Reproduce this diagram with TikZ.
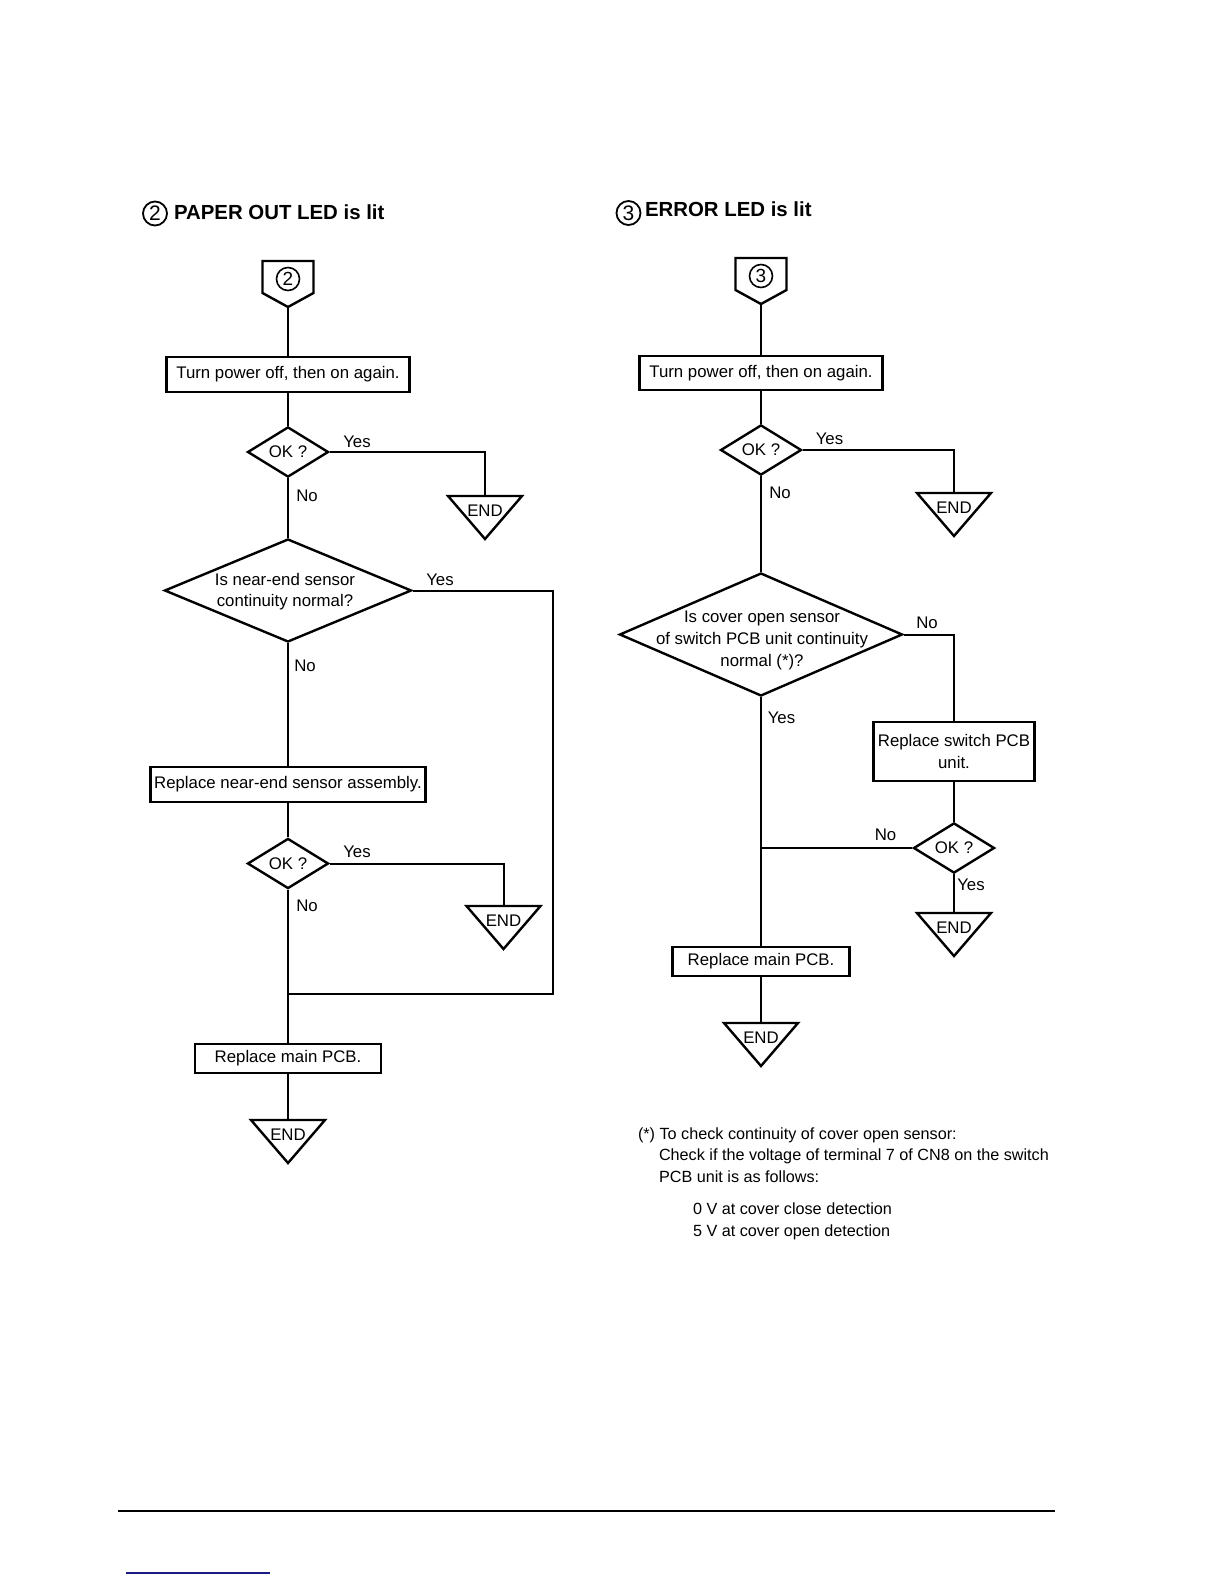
\documentclass[tikz,border=0pt]{standalone}
\usepackage{fontspec}
\setmainfont{Liberation Sans}
\usetikzlibrary{shapes.geometric}
\definecolor{linkblue}{RGB}{28,28,130}
\begin{document}
\begin{tikzpicture}[x=0.5pt, y=-0.5pt, line width=1pt,
    font=\fontsize{8.4}{10.8}\selectfont,
    procbox/.style={draw, rectangle, line width=1.2pt, inner sep=0pt, align=center},
    decision/.style={draw, diamond, line width=1.2pt, inner sep=0pt,
      minimum width=40.5pt, minimum height=22.5pt},
    lbl/.style={inner sep=0pt, text height=6pt, text depth=0pt},
    headline/.style={inner sep=0pt, anchor=west, text height=7.4pt, text depth=0pt,
      font=\fontsize{10.2}{12}\bfseries},
    headnum/.style={circle, draw, line width=0.9pt, minimum size=12pt, inner sep=0pt,
      font=\fontsize{10.5}{12}\selectfont},
    footline/.style={lbl, anchor=west, font=\fontsize{8.1}{10}\selectfont},
    startmark/.style={circle, draw, line width=0.8pt, minimum size=11.5pt, inner sep=0pt,
      font=\fontsize{9.5}{10}\selectfont,
      append after command={\pgfextra{\let\startnode\tikzlastnode
        \draw[line width=1.2pt, line join=miter]
           ([shift={(-25.5,-18)}]\startnode.center)
        -- ([shift={(25.5,-18)}]\startnode.center)
        -- ([shift={(25.5,14)}]\startnode.center)
        -- ([shift={(0,28)}]\startnode.center)
        -- ([shift={(-25.5,14)}]\startnode.center)
        -- cycle;
        \coordinate (\startnode-tip) at ([shift={(0,28)}]\startnode.center);}}},
    endmark/.style={rectangle, minimum width=36pt, minimum height=20.5pt, inner sep=0pt,
      anchor=north, text height=6pt, text depth=7.5pt,
      append after command={\pgfextra{\let\endnode\tikzlastnode
        \draw[line width=1.2pt, line join=miter]
           (\endnode.north west) -- (\endnode.north east) -- (\endnode.south) -- cycle;}}}]
  \useasboundingbox (0,0) rectangle (1224,1584);

  % Left chart: PAPER OUT LED
  \node[headnum] (t2num) at (155,213.5) {2};
  \node[headline] (t2) at (173,212.5) {PAPER OUT LED is lit};
  \node[startmark] (s2) at (288,279) {2};
  \node[procbox, minimum width=121.5pt, minimum height=17.5pt] (p2a) at (288,374.5)
    {Turn power off, then on again.};
  \node[decision] (ok2a) at (288,452) {OK ?};
  \node[endmark] (end2a) at (485,496) {END};
  \node[decision, minimum width=123.5pt, minimum height=51.5pt] (d2) at (288,590.5) {};
  \node[align=center, inner sep=0pt] (d2txt) at (285,591.5)
    {Is near-end sensor\\continuity normal?};
  \node[procbox, minimum width=137.5pt, minimum height=17.5pt] (p2b) at (288,784.5)
    {Replace near-end sensor assembly.};
  \node[decision] (ok2b) at (288,863.5) {OK ?};
  \node[endmark] (end2b) at (503.5,906) {END};
  \coordinate (j2) at (288,994);
  \coordinate (c2) at (553,994);
  \node[procbox, minimum width=93pt, minimum height=14.5pt] (p2c) at (288,1058.5)
    {Replace main PCB.};
  \node[endmark] (end2c) at (288,1120) {END};

  \draw (s2-tip) -- (p2a);
  \draw (p2a) -- (ok2a);
  \draw (ok2a.east) -| (end2a.north);
  \draw (ok2a) -- (d2);
  \draw (d2.east) -| (c2) -- (j2);
  \draw (d2) -- (p2b);
  \draw (p2b) -- (ok2b);
  \draw (ok2b.east) -| (end2b.north);
  \draw (ok2b) -- (p2c);
  \draw (p2c) -- (end2c);

  \node[lbl] (y2a) at (357,441) {Yes};
  \node[lbl] (n2a) at (307,495) {No};
  \node[lbl] (y2b) at (440,579) {Yes};
  \node[lbl] (n2b) at (305,665) {No};
  \node[lbl] (y2c) at (357,851) {Yes};
  \node[lbl] (n2c) at (307,905) {No};

  % Right chart: ERROR LED
  \node[headnum] (t3num) at (628.5,213) {3};
  \node[headline] (t3) at (644,209.5) {ERROR LED is lit};
  \node[startmark] (s3) at (761,276) {3};
  \node[procbox, minimum width=121.5pt, minimum height=17pt] (p3a) at (761,373)
    {Turn power off, then on again.};
  \node[decision] (ok3a) at (761,450) {OK ?};
  \node[endmark] (end3a) at (954,493) {END};
  \node[decision, minimum width=141.5pt, minimum height=61.5pt] (d3) at (761,634.5) {};
  \node[align=center, inner sep=0pt] (d3txt) at (762,640.5)
    {Is cover open sensor\\of switch PCB unit continuity\\normal (*)?};
  \node[procbox, minimum width=80.5pt, minimum height=29.5pt] (p3b) at (954,751.5)
    {Replace switch PCB\\unit.};
  \node[decision] (ok3b) at (954,848) {OK ?};
  \node[endmark] (end3b) at (954,913) {END};
  \coordinate (j3) at (761,848);
  \node[procbox, minimum width=88.5pt, minimum height=14.5pt] (p3c) at (761,961.5)
    {Replace main PCB.};
  \node[endmark] (end3c) at (761,1023) {END};

  \draw (s3-tip) -- (p3a);
  \draw (p3a) -- (ok3a);
  \draw (ok3a.east) -| (end3a.north);
  \draw (ok3a) -- (d3);
  \draw (d3.east) -| (p3b.north);
  \draw (p3b) -- (ok3b);
  \draw (ok3b) -- (end3b);
  \draw (ok3b.west) -- (j3);
  \draw (d3) -- (p3c);
  \draw (p3c) -- (end3c);

  \node[lbl] (y3a) at (829.5,438) {Yes};
  \node[lbl] (n3a) at (780,492) {No};
  \node[lbl] (n3b) at (927,622) {No};
  \node[lbl] (y3b) at (781.5,717) {Yes};
  \node[lbl] (n3c) at (885.5,834) {No};
  \node[lbl] (y3c) at (971,884) {Yes};

  % Note
  \node[footline] (f1) at (637,1133) {(*) To check continuity of cover open sensor:};
  \node[footline] (f2) at (658,1154.5) {Check if the voltage of terminal 7 of CN8 on the switch};
  \node[footline] (f3) at (658,1176) {PCB unit is as follows:};
  \node[footline] (f4) at (692,1208.5) {0 V at cover close detection};
  \node[footline] (f5) at (692,1230) {5 V at cover open detection};

  % Page rules
  \draw (118,1511) -- (1055,1511);
  \draw[linkblue, line width=1pt] (126,1573) -- (270,1573);
\end{tikzpicture}
\end{document}
